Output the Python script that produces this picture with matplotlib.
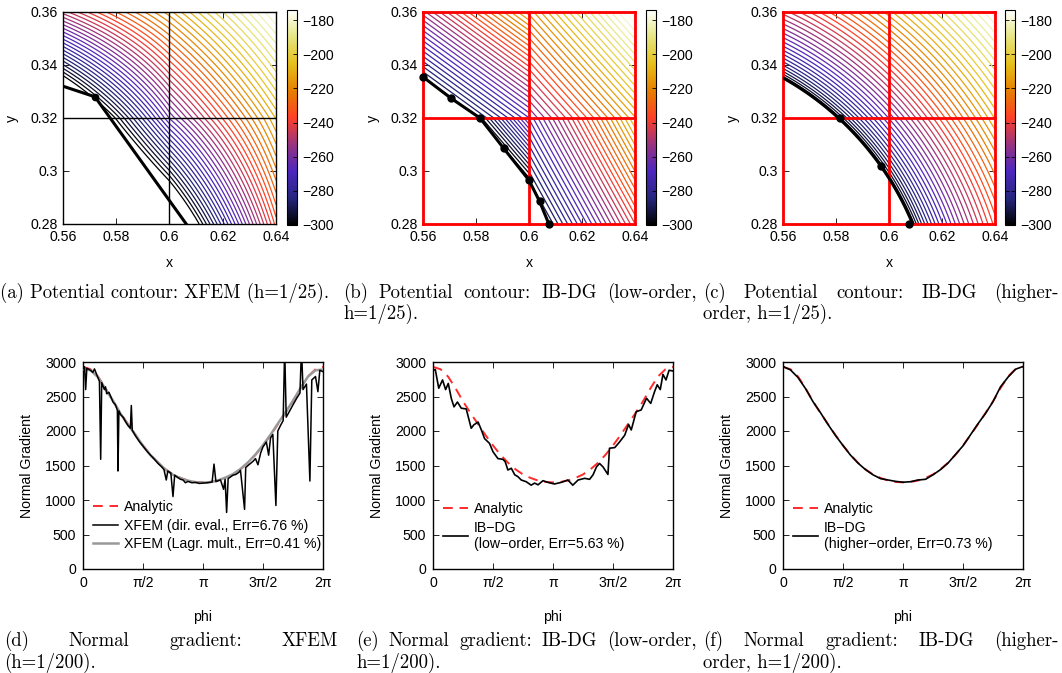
import numpy as np
import matplotlib
matplotlib.use("Agg")
import matplotlib.pyplot as plt
from matplotlib import colors, cm

plt.rcParams['font.family'] = ['Liberation Sans', 'DejaVu Sans']
plt.rcParams['axes.unicode_minus'] = True

W, H = 1062, 673
FS = 10.2   # tick / label font size

# ---- potential field (top row) ----
center = (0.505, 0.237)      # centre of the circular hole
radius = 0.1125              # hole radius
corner = (0.64, 0.36)
phi_wall = -300.0            # potential on the hole
phi_corner = -176.0          # potential at the far corner
shape_exp = 0.75
levels = np.arange(-300, -174, 3.0)
cb_ticks = [-300, -280, -260, -240, -220, -200, -180]

x_nodes = [0.56, 0.60, 0.64]
y_nodes = [0.28, 0.32, 0.36]
x_ticks = [0.56, 0.58, 0.60, 0.62, 0.64]
x_ticklabels = ['0.56', '0.58', '0.6', '0.62', '0.64']
y_ticks = [0.28, 0.30, 0.32, 0.34, 0.36]
y_ticklabels = ['0.28', '0.3', '0.32', '0.34', '0.36']

# discrete boundaries
bnd_xfem_x = [0.56, 0.572, 0.607]
bnd_xfem_y = [0.332, 0.328, 0.279]
bnd_low_x = [0.56, 0.5705, 0.5815, 0.5905, 0.600, 0.604, 0.6075]
bnd_low_y = [0.3355, 0.3275, 0.3200, 0.3085, 0.2965, 0.2885, 0.2800]
bnd_high_x = [0.5815, 0.597, 0.6075]
bnd_high_y = [0.3200, 0.302, 0.2800]

# ---- normal gradient (bottom row) ----
phi16 = np.arange(33) * np.pi / 16
analytic = [2930, 2895, 2790, 2620, 2430, 2260, 2100, 1940, 1790, 1655, 1540,
            1445, 1370, 1320, 1282, 1262, 1255, 1262, 1282, 1320, 1370, 1445,
            1540, 1655, 1790, 1940, 2100, 2260, 2430, 2620, 2790, 2895, 2930]
xfem_lagr = [2900, 2880, 2780, 2610, 2440, 2250, 2090, 1945, 1785, 1650, 1545,
             1440, 1365, 1315, 1280, 1258, 1250, 1260, 1285, 1325, 1375, 1450,
             1545, 1660, 1795, 1945, 2110, 2270, 2440, 2620, 2790, 2880, 2890]
ibdg_high = [2935, 2885, 2775, 2615, 2425, 2265, 2095, 1935, 1790, 1650, 1535,
             1440, 1365, 1310, 1290, 1270, 1258, 1265, 1290, 1300, 1365, 1440,
             1535, 1660, 1785, 1945, 2105, 2255, 2425, 2640, 2780, 2895, 2935]

xfem_dir_phi = [0.000, 0.040, 0.070, 0.100, 0.196, 0.260, 0.300, 0.393, 0.430,
                0.463, 0.490, 0.560, 0.589, 0.620, 0.680, 0.785, 0.850, 0.900,
                0.916, 0.940, 0.982, 1.050, 1.120, 1.178, 1.240, 1.265, 1.290,
                1.374, 1.470, 1.571, 1.670, 1.767, 1.870, 1.963, 2.060, 2.120,
                2.180, 2.220, 2.300, 2.356, 2.400, 2.470, 2.553, 2.620, 2.680,
                2.749, 2.850, 2.945, 3.050, 3.142, 3.250, 3.380, 3.430, 3.480,
                3.534, 3.600, 3.680, 3.720, 3.760, 3.800, 3.927, 4.000, 4.080,
                4.123, 4.230, 4.260, 4.320, 4.450, 4.516, 4.580, 4.650, 4.712,
                4.800, 4.860, 4.910, 4.970, 5.050, 5.100, 5.180, 5.240, 5.280,
                5.320, 5.400, 5.498, 5.600, 5.680, 5.720, 5.760, 5.850, 5.940,
                5.990, 6.087, 6.150, 6.200, 6.283]
xfem_dir_val = [2900, 2930, 2600, 2910, 2880, 2850, 2900, 2770, 2720,
                1590, 2700, 2600, 2640, 2540, 2560, 2420, 2380, 2300,
                1420, 2290, 2240, 2200, 2130, 2080, 2040, 2370, 2010,
                1930, 1850, 1780, 1710, 1650, 1590, 1530, 1480, 1440,
                1290, 1420, 1390, 1050, 1360, 1330, 1300, 1290, 1250,
                1270, 1250, 1255, 1240, 1245, 1250, 1260, 1520, 1265,
                1280, 1290, 1155, 1300, 820, 1310, 1360, 1370, 1400,
                1430, 865, 1470, 1500, 1560, 1600, 1510, 1680, 1770,
                1840, 1650, 1900, 1950, 920, 2000, 2090, 2150, 3200,
                2200, 2280, 2380, 2480, 2550, 3200, 2600, 2680, 1275,
                2740, 2790, 2570, 2880, 2860]

ibdg_low_phi = [0.00, 0.06, 0.15, 0.25, 0.33, 0.40, 0.48, 0.55, 0.64, 0.74,
                0.87, 1.00, 1.07, 1.18, 1.27, 1.35, 1.48, 1.57, 1.70, 1.83,
                1.89, 1.96, 2.05, 2.14, 2.22, 2.31, 2.44, 2.57, 2.66, 2.75,
                2.88, 3.01, 3.18, 3.36, 3.53, 3.66, 3.80, 3.97, 4.10, 4.19,
                4.28, 4.36, 4.45, 4.58, 4.62, 4.76, 4.89, 5.02, 5.12, 5.19,
                5.32, 5.45, 5.59, 5.70, 5.80, 5.87, 5.95, 6.02, 6.10, 6.18,
                6.283]
ibdg_low_val = [2880, 2890, 2620, 2740, 2600, 2690, 2470, 2350, 2420, 2330,
                2320, 2040, 2090, 2130, 2010, 1890, 1820, 1700, 1600, 1590,
                1555, 1435, 1460, 1365, 1340, 1290, 1265, 1215, 1245, 1220,
                1280, 1255, 1232, 1256, 1290, 1215, 1290, 1314, 1300, 1365,
                1480, 1530, 1480, 1370, 1750, 1760, 1845, 1940, 2095, 2015,
                2280, 2305, 2475, 2400, 2570, 2670, 2600, 2820, 2740, 2880,
                2870]

cmap = plt.get_cmap('CMRmap')
norm = colors.Normalize(vmin=-300, vmax=-174)


def potential(x, y):
    r = np.hypot(x - center[0], y - center[1])
    rc = np.hypot(corner[0] - center[0], corner[1] - center[1])
    s = (r - radius) / (rc - radius)
    return phi_wall + (phi_corner - phi_wall) * np.sign(s) * np.abs(s) ** shape_exp


def below(X, Y, bx, by):
    yb = np.interp(X, bx, by, right=-1.0)
    return Y < yb


fig = plt.figure(figsize=(W / 100, H / 100), dpi=100)


def px_axes(l, t, r, b):
    return fig.add_axes([l / W, 1 - b / H, (r - l) / W, (b - t) / H])


def cell_grid(i, j, n=150):
    gx = np.linspace(x_nodes[i], x_nodes[i + 1], n)
    gy = np.linspace(y_nodes[j], y_nodes[j + 1], n)
    return np.meshgrid(gx, gy)


def style_top(ax):
    ax.set_xlim(0.56, 0.64)
    ax.set_ylim(0.28, 0.36)
    ax.set_xticks(x_ticks)
    ax.set_xticklabels(x_ticklabels)
    ax.set_yticks(y_ticks)
    ax.set_yticklabels(y_ticklabels)
    ax.tick_params(direction='in', top=True, right=True, length=4,
                   labelsize=FS, pad=4, width=0.6)
    ax.set_xlabel('x', fontsize=FS)
    ax.set_ylabel('y', fontsize=FS)
    ax.xaxis.set_label_coords(0.5, -0.15)
    ax.yaxis.set_label_coords(-0.205, 0.5)
    for s in ax.spines.values():
        s.set_linewidth(1.0)


def add_cbar(l, r):
    cax = px_axes(l, 10, r, 225)
    cb = fig.colorbar(cm.ScalarMappable(norm=norm, cmap=cmap), cax=cax,
                      ticks=cb_ticks)
    cb.ax.tick_params(direction='in', labelsize=FS, length=3, width=0.6,
                      left=True, right=True, pad=4)
    cb.outline.set_linewidth(0.8)


def red_grid(ax):
    for xv in x_nodes:
        ax.axvline(xv, color='#ff0000', lw=2.0, zorder=3, clip_on=False)
    for yv in y_nodes:
        ax.axhline(yv, color='#ff0000', lw=2.0, zorder=3, clip_on=False)


# (a) XFEM: bilinear per cell
ax = px_axes(63, 12, 276, 224)
for i in range(2):
    for j in range(2):
        X, Y = cell_grid(i, j)
        x0, x1 = x_nodes[i], x_nodes[i + 1]
        y0, y1 = y_nodes[j], y_nodes[j + 1]
        u = (X - x0) / (x1 - x0)
        v = (Y - y0) / (y1 - y0)
        Z = (potential(x0, y0) * (1 - u) * (1 - v) + potential(x1, y0) * u * (1 - v)
             + potential(x0, y1) * (1 - u) * v + potential(x1, y1) * u * v)
        Z = np.ma.masked_where(below(X, Y, bnd_xfem_x, bnd_xfem_y), Z)
        ax.contour(X, Y, Z, levels=levels, cmap=cmap, norm=norm, linewidths=0.9)
ax.axvline(0.6, color='black', lw=1.0, zorder=3)
ax.axhline(0.32, color='black', lw=1.0, zorder=3)
ax.plot(bnd_xfem_x, bnd_xfem_y, color='black', lw=2.2, zorder=4, clip_on=True)
ax.plot(bnd_xfem_x[1], bnd_xfem_y[1], 'o', color='black', ms=4.5, zorder=5)
style_top(ax)
add_cbar(287, 297)

# (b) IB-DG low order: one plane per cell
ax = px_axes(423, 12, 635, 224)
for i in range(2):
    for j in range(2):
        X, Y = cell_grid(i, j)
        out = ~below(X, Y, bnd_low_x, bnd_low_y)
        A = np.column_stack([np.ones(out.sum()), X[out], Y[out]])
        coef = np.linalg.lstsq(A, potential(X[out], Y[out]), rcond=None)[0]
        Z = coef[0] + coef[1] * X + coef[2] * Y
        Z = np.ma.masked_where(~out, Z)
        ax.contour(X, Y, Z, levels=levels, cmap=cmap, norm=norm, linewidths=0.9)
red_grid(ax)
ax.plot(bnd_low_x, bnd_low_y, color='black', lw=2.2, marker='o', ms=5,
        zorder=5, clip_on=False)
style_top(ax)
add_cbar(646, 656)

# (c) IB-DG higher order: smooth field
ax = px_axes(783, 12, 995, 224)
gx = np.linspace(0.56, 0.64, 400)
gy = np.linspace(0.28, 0.36, 400)
X, Y = np.meshgrid(gx, gy)
Z = np.ma.masked_where(np.hypot(X - center[0], Y - center[1]) < radius,
                       potential(X, Y))
ax.contour(X, Y, Z, levels=levels, cmap=cmap, norm=norm, linewidths=0.9)
red_grid(ax)
t0 = np.arctan2(0.335 - center[1], 0.56 - center[0])
t1 = np.arctan2(0.2795 - center[1], 0.6075 - center[0])
tt = np.linspace(t0, t1, 100)
ax.plot(center[0] + radius * np.cos(tt), center[1] + radius * np.sin(tt),
        color='black', lw=2.2, zorder=5)
ax.plot(bnd_high_x, bnd_high_y, 'o', color='black', ms=5, zorder=6, clip_on=False)
style_top(ax)
add_cbar(1005, 1015)

# ---- bottom row ----
red = '#ff2a2a'


def style_bottom(ax):
    ax.set_xlim(0, 2 * np.pi)
    ax.set_ylim(0, 3000)
    ax.set_xticks([0, np.pi / 2, np.pi, 3 * np.pi / 2, 2 * np.pi])
    ax.set_xticklabels(['0', 'π/2', 'π', '3π/2', '2π'])
    ax.set_yticks(range(0, 3001, 500))
    ax.tick_params(direction='in', top=True, right=True, length=4,
                   labelsize=FS, pad=5, width=0.6)
    ax.set_xlabel('phi', fontsize=FS)
    ax.set_ylabel('Normal Gradient', fontsize=FS)
    ax.xaxis.set_label_coords(0.5, -0.2)
    ax.yaxis.set_label_coords(-0.205, 0.5)
    for s in ax.spines.values():
        s.set_linewidth(1.0)


def add_legend(ax, handles=None, labels=None):
    if handles is None:
        handles, labels = ax.get_legend_handles_labels()
    ax.legend(handles, labels, loc='lower left', bbox_to_anchor=(0.0, 0.04),
              frameon=False, fontsize=FS, handlelength=1.8, handletextpad=0.4,
              labelspacing=0.3, borderaxespad=0.3)


ax = px_axes(83, 362, 323, 569)
ax.plot(phi16, analytic, color=red, lw=1.4, dashes=(5, 3.5), label='Analytic',
        zorder=2)
ax.plot(phi16, xfem_lagr, color='#999999', lw=1.8, zorder=3,
        label='XFEM (Lagr. mult., Err=0.41 %)')
ax.plot(xfem_dir_phi, xfem_dir_val, color='black', lw=1.1, zorder=4,
        label='XFEM (dir. eval., Err=6.76 %)')
style_bottom(ax)
h, l = ax.get_legend_handles_labels()
add_legend(ax, [h[0], h[2], h[1]], [l[0], l[2], l[1]])

ax = px_axes(433, 362, 673, 569)
ax.plot(phi16, analytic, color=red, lw=1.4, dashes=(5, 3.5), label='Analytic')
ax.plot(ibdg_low_phi, ibdg_low_val, color='black', lw=1.2,
        label='IB−DG\n(low−order, Err=5.63 %)')
style_bottom(ax)
add_legend(ax)

ax = px_axes(783, 362, 1023, 569)
ax.plot(phi16, analytic, color=red, lw=1.4, dashes=(5, 3.5), label='Analytic')
ax.plot(phi16, ibdg_high, color='black', lw=1.2,
        label='IB−DG\n(higher−order, Err=0.73 %)')
style_bottom(ax)
add_legend(ax)

# ---- captions (serif, justified first lines) ----
cap_size = 13.5
renderer = fig.canvas.get_renderer()


def caption_line(text, x0, y, x1=None):
    words = text.split()
    if x1 is None:
        fig.text(x0 / W, 1 - y / H, text, fontsize=cap_size, family='cmr10',
                 va='center', ha='left')
        return
    ts = [fig.text(0, 1 - y / H, w, fontsize=cap_size, family='cmr10',
                   va='center', ha='left') for w in words]
    widths = [t.get_window_extent(renderer).width for t in ts]
    gap = (x1 - x0 - sum(widths)) / (len(words) - 1)
    x = x0
    for t, w in zip(ts, widths):
        t.set_x(x / W)
        x += w + gap


caption_line('(a) Potential contour: XFEM (h=1/25).', 0, 293)
caption_line('(b) Potential contour: IB-DG (low-order,', 343, 293, 697)
caption_line('h=1/25).', 343, 314)
caption_line('(c) Potential contour: IB-DG (higher-', 703, 293, 1059)
caption_line('order, h=1/25).', 703, 314)

caption_line('(d) Normal gradient: XFEM', 4, 641, 338)
caption_line('(h=1/200).', 4, 663)
caption_line('(e) Normal gradient: IB-DG (low-order,', 356, 641, 697)
caption_line('h=1/200).', 356, 663)
caption_line('(f) Normal gradient: IB-DG (higher-', 703, 641, 1059)
caption_line('order, h=1/200).', 703, 663)

fig.savefig('out.png', dpi=100)
